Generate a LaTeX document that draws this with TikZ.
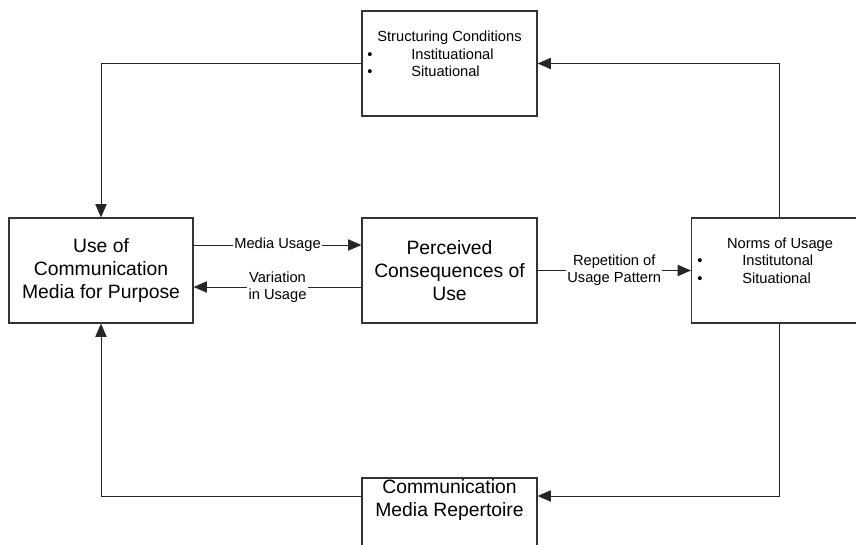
\documentclass[tikz,border=0pt]{standalone}
\usepackage{fontspec}
\setmainfont{Liberation Sans}
\usetikzlibrary{arrows.meta}
\begin{document}
\begin{tikzpicture}[x=0.75pt,y=-0.75pt,
  box/.style={draw=black!80,line width=0.9pt,rectangle,minimum width=131.25pt,
    minimum height=78.75pt,inner sep=0pt,anchor=center},
  big/.style={font=\fontsize{14.5}{17.25}\selectfont,align=center,inner sep=0pt},
  small/.style={font=\fontsize{11}{12.75}\selectfont,inner sep=0pt,anchor=base},
  arr/.style={draw=black!85,line width=0.7pt,-{Triangle[length=10pt,width=8.5pt]}},
  lbl/.style={font=\fontsize{11}{12.5}\selectfont,align=center,fill=white,inner sep=1pt}]

\useasboundingbox (0,0) rectangle (856,545);

% boxes
\node[box] (cond) at (449.5,63.5) {};
\node[box,minimum width=138pt] (use) at (101,270.5) {};
\node[box] (cons) at (449.5,270.5) {};
\node[box] (norms) at (779,270.5) {};
\node[box] (rep) at (449.5,530.5) {};

% box texts
\node[small] (condT) at (449.5,42) {Structuring Conditions};
\node[small] (condB1) at (370,60) {•};
\node[small] (condB2) at (370,77) {•};
\node[small,anchor=base west] (condI1) at (411,60) {Instituational};
\node[small,anchor=base west] (condI2) at (411,77) {Situational};

\node[big] (useT) at (101,270.5) {Use of\\Communication\\Media for Purpose};
\node[big] (consT) at (449.5,270.5) {Perceived\\Consequences of\\Use};

\node[small] (normsT) at (780,248) {Norms of Usage};
\node[small] (normsB1) at (700,265.5) {•};
\node[small] (normsB2) at (700,283) {•};
\node[small,anchor=base west] (normsI1) at (742,265.5) {Institutonal};
\node[small,anchor=base west] (normsI2) at (742,283) {Situational};

\node[big,anchor=base] (repT1) at (449.5,493) {Communication};
\node[big,anchor=base] (repT2) at (449.5,516) {Media Repertoire};

% connector levels
\coordinate (yMU) at (0,245);
\coordinate (yVar) at (0,287);
\coordinate (yBot) at (0,496);

% connectors
\draw[arr] (cond.west) -| (use.north);
\draw[arr] (norms.north) |- (cond.east);
\draw[arr] (use.east |- yMU) -- node[lbl] (muL) {Media Usage} (cons.west |- yMU);
\draw[arr] (cons.west |- yVar) -- node[lbl] (varL) {Variation\\in Usage} (use.east |- yVar);
\draw[arr] (cons.east) -- node[lbl] (repL) {Repetition of\\Usage Pattern} (norms.west);
\draw[arr] (norms.south) |- (rep.east |- yBot);
\draw[arr] (rep.west |- yBot) -| (use.south);

\end{tikzpicture}
\end{document}
